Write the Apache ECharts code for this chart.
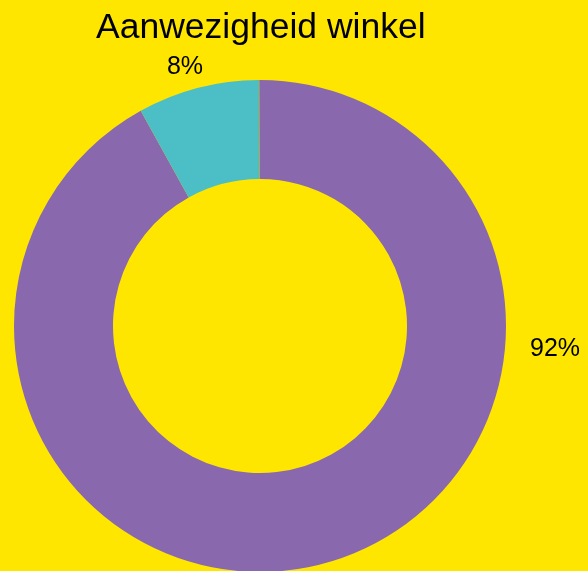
<!DOCTYPE html>
<html>
<head>
<meta charset="utf-8">
<script src="https://cdn.jsdelivr.net/npm/echarts@6/dist/echarts.min.js"></script>
<style>
  html, body { margin: 0; padding: 0; background: #ffe600; }
  #chart { width: 588px; height: 571px; }
</style>
</head>
<body>
<div id="chart"></div>
<script>
const categories = ['Aanwezig', 'Niet aanwezig', 'Onbekend'];
const values = [92, 8, 0.06];
const colors = ['#8a68ad', '#4bbec6', '#b5835d'];
// where the percentage labels sit (label centres, px)
const labelSpots = [[555, 349], [185, 67], null];

const myChart = echarts.init(document.getElementById('chart'), null, { renderer: 'canvas' });

const option = {
  backgroundColor: '#ffe600',
  title: {
    text: 'Aanwezigheid winkel',
    left: 96,
    top: 10,
    padding: 0,
    textStyle: {
      fontFamily: 'Liberation Sans',
      fontSize: 35.5,
      fontWeight: 'normal',
      color: '#000'
    }
  },
  series: [{
    type: 'pie',
    center: [260, 326],
    radius: [147, 246],
    startAngle: 90,
    clockwise: true,
    avoidLabelOverlap: false,
    silent: true,
    label: {
      show: true,
      position: 'outside',
      formatter: p => p.dataIndex < 2 ? p.value + '%' : '',
      fontFamily: 'Liberation Sans',
      fontSize: 25,
      color: '#000'
    },
    labelLine: { show: false },
    labelLayout: params => {
      const spot = labelSpots[params.dataIndex];
      if (!spot) return {};
      return { x: spot[0], y: spot[1], align: 'center', verticalAlign: 'middle' };
    },
    data: categories.map((name, i) => ({
      name: name,
      value: values[i],
      itemStyle: { color: colors[i] }
    }))
  }]
};

myChart.setOption(option);
</script>
</body>
</html>
